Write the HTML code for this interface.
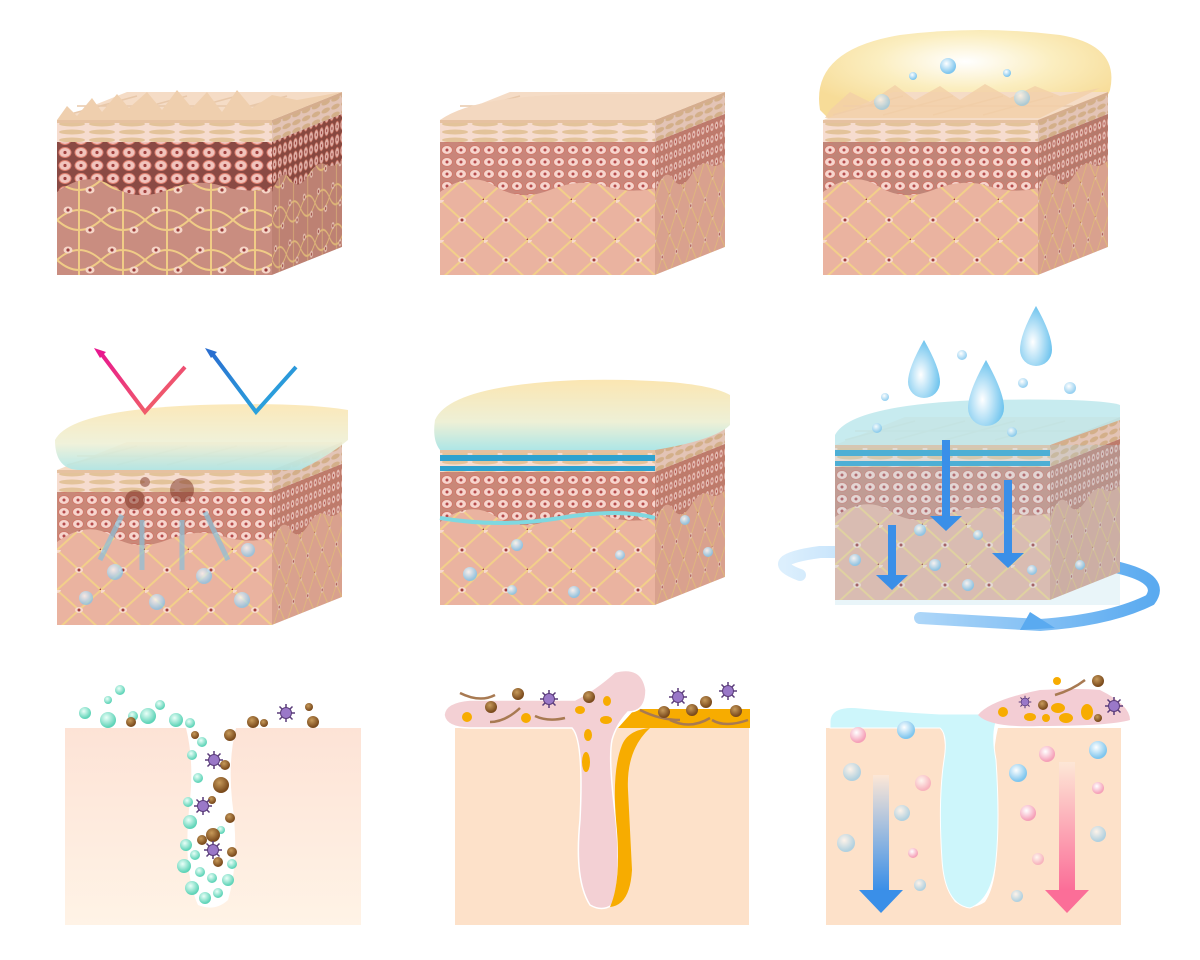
<!DOCTYPE html>
<html><head><meta charset="utf-8"><style>html,body{margin:0;padding:0;background:#fff}svg{display:block}</style></head><body>
<svg width="1200" height="960" viewBox="0 0 1200 960" xmlns="http://www.w3.org/2000/svg">
<defs>
<pattern id="cells" width="14" height="12" patternUnits="userSpaceOnUse">
<ellipse cx="7" cy="6" rx="5.5" ry="4.5" fill="#f7d5cd" stroke="#d07a6c" stroke-width="1"/><circle cx="7" cy="6" r="1.5" fill="#b4494a"/></pattern>
<pattern id="cellsD" width="16" height="13" patternUnits="userSpaceOnUse">
<ellipse cx="8" cy="6.5" rx="6" ry="5" fill="#f1c4bd" stroke="#e08070" stroke-width="1"/><circle cx="8" cy="6.5" r="1.6" fill="#a0403e"/></pattern>
<pattern id="mesh" width="44" height="40" patternUnits="userSpaceOnUse">
<rect width="44" height="40" fill="#eab3a0"/>
<path d="M0 0L44 40M44 0L0 40" stroke="#f2cf8a" stroke-width="2"/>
<ellipse cx="22" cy="20" rx="4" ry="3" fill="#f8d9cc"/><circle cx="22" cy="20" r="1.5" fill="#a23d3d"/>
<ellipse cx="0" cy="0" rx="4" ry="3" fill="#f8d9cc"/><circle cx="44" cy="40" r="1.5" fill="#a23d3d"/></pattern>
<pattern id="meshD" width="44" height="40" patternUnits="userSpaceOnUse">
<rect width="44" height="40" fill="#c98d80"/>
<path d="M0 20Q22 0 44 20M0 20Q22 40 44 20M22 0V40" stroke="#f0cc86" stroke-width="2" fill="none"/>
<ellipse cx="11" cy="10" rx="4.5" ry="3.5" fill="#f6d6c8"/><circle cx="11" cy="10" r="1.6" fill="#9a3b3b"/>
<ellipse cx="33" cy="30" rx="4.5" ry="3.5" fill="#f6d6c8"/><circle cx="33" cy="30" r="1.6" fill="#9a3b3b"/></pattern>
<pattern id="strip" width="30" height="8" patternUnits="userSpaceOnUse">
<rect width="30" height="8" fill="#f6dccf"/><ellipse cx="15" cy="4" rx="13" ry="2.5" fill="#e3c39a"/></pattern>
<g id="layers">
<rect x="0" y="40" width="215" height="115" fill="var(--derm)"/>
<rect x="0" y="0" width="215" height="22" fill="url(#strip)"/>
<rect x="0" y="0" width="215" height="3" fill="#e6c1a0"/>
<path d="M0 22H215V68Q190 74 165 66T110 70T55 66T0 72Z" fill="var(--band)"/>
<path d="M0 22H215V68Q190 74 165 66T110 70T55 66T0 72Z" fill="var(--cp)"/>
</g>
<g id="cube">
<use href="#layers"/>
<polygon points="0,0 215,0 285,-28 70,-28" fill="#f5dcc6"/>
<path d="M10 -5 L80 -24 M60 -5 L130 -24 M110 -5 L180 -24 M160 -5 L230 -24 M20 -14 H250" stroke="#e8c8aa" stroke-width="1.5"/>
<g transform="translate(215,0) skewY(-21.8)"><svg width="70" height="155" viewBox="0 0 215 155" preserveAspectRatio="none"><use href="#layers"/></svg>
<rect width="70" height="155" fill="#7a3a2a" opacity="0.15"/></g>
</g>
<radialGradient id="film" cx="0.5" cy="0.35" r="0.6"><stop offset="0" stop-color="#ffffff"/><stop offset="0.5" stop-color="#fbeec0"/><stop offset="1" stop-color="#f7dc98"/></radialGradient>
<linearGradient id="film2" x1="0" y1="0" x2="0" y2="1"><stop offset="0" stop-color="#fbe6b2"/><stop offset="0.6" stop-color="#eef0d6"/><stop offset="1" stop-color="#aee6e6"/></linearGradient>
<radialGradient id="bub" cx="0.4" cy="0.35" r="0.6"><stop offset="0" stop-color="#fff"/><stop offset="1" stop-color="#7fc6ee"/></radialGradient>
<radialGradient id="bubG" cx="0.4" cy="0.35" r="0.6"><stop offset="0" stop-color="#eafff8"/><stop offset="1" stop-color="#5fd4b8"/></radialGradient>
<radialGradient id="bubP" cx="0.4" cy="0.35" r="0.6"><stop offset="0" stop-color="#fff"/><stop offset="1" stop-color="#f5a0b8"/></radialGradient>
<radialGradient id="brown" cx="0.4" cy="0.35" r="0.6"><stop offset="0" stop-color="#c79a5a"/><stop offset="1" stop-color="#7a4a1c"/></radialGradient>
<radialGradient id="drop" cx="0.4" cy="0.6" r="0.6"><stop offset="0" stop-color="#fff"/><stop offset="1" stop-color="#6fc4ee"/></radialGradient>
<linearGradient id="peach" x1="0" y1="0" x2="0" y2="1"><stop offset="0" stop-color="#fde3d6"/><stop offset="1" stop-color="#fff3e6"/></linearGradient>
<linearGradient id="arB" x1="0" y1="0" x2="0" y2="1"><stop offset="0" stop-color="#fde7d6"/><stop offset="1" stop-color="#3a8fe8"/></linearGradient>
<linearGradient id="arP" x1="0" y1="0" x2="0" y2="1"><stop offset="0" stop-color="#fde7d6"/><stop offset="1" stop-color="#fb6e98"/></linearGradient>
<linearGradient id="vM" x1="0" y1="0" x2="1" y2="1"><stop offset="0" stop-color="#e8188e"/><stop offset="1" stop-color="#f27060"/></linearGradient>
<linearGradient id="vB" x1="0" y1="0" x2="1" y2="1"><stop offset="0" stop-color="#2a6fd0"/><stop offset="1" stop-color="#2bb0e0"/></linearGradient>
<linearGradient id="swirl" x1="0" y1="0" x2="1" y2="0"><stop offset="0" stop-color="#dceffd"/><stop offset="1" stop-color="#5aaaf0"/></linearGradient>
<g id="virus"><g stroke="#5a3c7a" stroke-width="1.5"><path d="M-9 0H9M0 -9V9M-6.5 -6.5L6.5 6.5M-6.5 6.5L6.5 -6.5"/></g><circle r="5.5" fill="#9a78c8" stroke="#5a3c7a"/></g>
</defs>

<!-- Row 1 -->
<g transform="translate(57,120)" style="--band:#8a4a44;--cp:url(#cellsD);--derm:url(#meshD)">
<use href="#cube"/>
<path d="M0 0 L10 -14 L20 -4 L35 -22 L45 -8 L60 -26 L72 -12 L90 -28 L105 -10 L120 -30 L135 -12 L150 -28 L165 -8 L180 -30 L195 -12 L215 -25 L240 -20 L285 -28 L215 0Z" fill="#efcfae"/>
</g>
<g transform="translate(440,120)" style="--band:#c9867a;--cp:url(#cells);--derm:url(#mesh)"><use href="#cube"/><path d="M0 0Q20 -14 60 -20T160 -26T285 -28L215 0Z" fill="#f3d8c0"/></g>
<path d="M820 110Q810 50 900 35Q980 25 1060 35Q1120 45 1110 90Q1105 110 1040 120H830Z" fill="url(#film)"/>
<g transform="translate(823,120)" style="--band:#c08578;--cp:url(#cells);--derm:url(#mesh)"><use href="#cube"/></g>
<path d="M830 110L850 92L870 102L895 85L915 100L940 86L960 100L985 84L1010 98L1035 86L1060 96L1100 88L1040 118H825Z" fill="#f2cfa8" opacity=".8"/>
<g fill="url(#bub)"><circle cx="948" cy="66" r="8"/><circle cx="913" cy="76" r="4"/><circle cx="1007" cy="73" r="4"/><circle cx="882" cy="102" r="8" opacity=".6"/><circle cx="1022" cy="98" r="8" opacity=".6"/></g>

<!-- Row 2 -->
<g transform="translate(57,470)" style="--band:#c98878;--cp:url(#cells);--derm:url(#mesh)"><use href="#cube"/></g>
<path d="M55 440Q70 410 200 405Q300 402 348 410L348 440Q330 455 300 470H80Q55 470 55 440Z" fill="url(#film2)" opacity=".9"/>
<g fill="#7a3020" opacity=".5"><circle cx="135" cy="500" r="10"/><circle cx="182" cy="490" r="12"/><circle cx="145" cy="482" r="5"/></g>
<g stroke="#8ac0d8" stroke-width="5" opacity=".7" fill="none"><path d="M100 560L122 515M142 570V520M182 570V520M228 560L205 512"/></g>
<g fill="url(#bub)" opacity=".7"><circle cx="115" cy="572" r="8"/><circle cx="157" cy="602" r="8"/><circle cx="204" cy="576" r="8"/><circle cx="242" cy="600" r="8"/><circle cx="86" cy="598" r="7"/><circle cx="248" cy="550" r="7"/></g>
<path d="M100 352L145 412L185 367" stroke="url(#vM)" stroke-width="4" fill="none"/><path d="M94 348L106 352L100 358Z" fill="#e8188e"/>
<path d="M211 352L256 412L296 367" stroke="url(#vB)" stroke-width="4" fill="none"/><path d="M205 348L217 352L211 358Z" fill="#2a6fd0"/>

<g transform="translate(440,450)" style="--band:#c98878;--cp:url(#cells);--derm:url(#mesh)"><use href="#cube"/></g>
<rect x="440" y="455" width="215" height="6" fill="#2fa2cf"/><rect x="440" y="466" width="215" height="5" fill="#2fa2cf"/>
<path d="M440 518Q500 528 560 518T655 518" stroke="#7fd8e0" stroke-width="4" fill="none"/>
<path d="M435 420Q450 385 580 380Q700 378 730 395V425Q715 440 655 450H440Q432 440 435 420Z" fill="url(#film2)"/>
<g fill="url(#bub)" opacity=".8"><circle cx="470" cy="574" r="7"/><circle cx="517" cy="545" r="6"/><circle cx="574" cy="592" r="6"/><circle cx="620" cy="555" r="5"/><circle cx="512" cy="590" r="5"/><circle cx="708" cy="552" r="5"/><circle cx="685" cy="520" r="5"/></g>

<path d="M800 575Q760 560 820 552H880M980 555Q1180 560 1150 600Q1110 620 1040 625L920 618" stroke="url(#swirl)" stroke-width="12" fill="none" stroke-linecap="round"/>
<path d="M1030 612L1055 628L1020 630Z" fill="#5aaaf0"/>
<g transform="translate(835,445)" style="--band:#c98878;--cp:url(#cells);--derm:url(#mesh)"><use href="#cube"/></g>
<rect x="835" y="450" width="215" height="6" fill="#2fa2cf"/><rect x="835" y="461" width="215" height="5" fill="#2fa2cf"/>
<rect x="835" y="445" width="285" height="160" fill="#a9d8e8" opacity=".25"/>
<path d="M835 435Q850 405 980 400Q1100 398 1120 405V420L1050 445H835Z" fill="#bde8ec" opacity=".85"/>
<g fill="#3a8fe8"><rect x="888" y="525" width="8" height="52"/><path d="M876 575H908L892 590Z"/><rect x="942" y="440" width="8" height="78"/><path d="M930 516H962L946 531Z"/><rect x="1004" y="480" width="8" height="75"/><path d="M992 553H1024L1008 568Z"/></g>
<g fill="url(#drop)"><path d="M924 340Q908 368 908 382A16 16 0 0 0 940 382Q940 368 924 340Z"/><path d="M986 360Q968 392 968 408A18 18 0 0 0 1004 408Q1004 392 986 360Z"/><path d="M1036 306Q1020 334 1020 350A16 16 0 0 0 1052 350Q1052 334 1036 306Z"/></g>
<g fill="url(#bub)" opacity=".8"><circle cx="962" cy="355" r="5"/><circle cx="1023" cy="383" r="5"/><circle cx="1070" cy="388" r="6"/><circle cx="885" cy="397" r="4"/><circle cx="877" cy="428" r="5"/><circle cx="1012" cy="432" r="5"/><circle cx="855" cy="560" r="6"/><circle cx="935" cy="565" r="6"/><circle cx="968" cy="585" r="6"/><circle cx="1032" cy="570" r="5"/><circle cx="920" cy="530" r="6"/><circle cx="978" cy="535" r="5"/><circle cx="1080" cy="565" r="5"/></g>

<!-- Row 3 panel 7 -->
<path d="M65 728H186Q194 760 190 800Q182 870 198 905Q215 912 228 900Q240 860 232 800Q228 760 236 728H361V925H65Z" fill="url(#peach)"/>
<g fill="url(#bubG)"><circle cx="85" cy="713" r="6"/><circle cx="108" cy="720" r="8"/><circle cx="120" cy="690" r="5"/><circle cx="133" cy="716" r="5"/><circle cx="148" cy="716" r="8"/><circle cx="160" cy="705" r="5"/><circle cx="176" cy="720" r="7"/><circle cx="108" cy="700" r="4"/><circle cx="190" cy="723" r="5"/><circle cx="202" cy="742" r="5"/><circle cx="192" cy="755" r="5"/><circle cx="198" cy="778" r="5"/><circle cx="188" cy="802" r="5"/><circle cx="190" cy="822" r="7"/><circle cx="186" cy="845" r="6"/><circle cx="184" cy="866" r="7"/><circle cx="192" cy="888" r="7"/><circle cx="205" cy="898" r="6"/><circle cx="218" cy="893" r="5"/><circle cx="228" cy="880" r="6"/><circle cx="232" cy="864" r="5"/><circle cx="200" cy="872" r="5"/><circle cx="212" cy="878" r="5"/><circle cx="195" cy="855" r="5"/><circle cx="221" cy="830" r="4"/></g>
<g fill="url(#brown)"><circle cx="131" cy="722" r="5"/><circle cx="253" cy="722" r="6"/><circle cx="264" cy="723" r="4"/><circle cx="313" cy="722" r="6"/><circle cx="309" cy="707" r="4"/><circle cx="230" cy="735" r="6"/><circle cx="225" cy="765" r="5"/><circle cx="221" cy="785" r="8"/><circle cx="212" cy="800" r="4"/><circle cx="230" cy="818" r="5"/><circle cx="213" cy="835" r="7"/><circle cx="232" cy="852" r="5"/><circle cx="218" cy="862" r="5"/><circle cx="202" cy="840" r="5"/><circle cx="195" cy="735" r="4"/></g>
<use href="#virus" x="286" y="713"/><use href="#virus" x="214" y="760"/><use href="#virus" x="203" y="806"/><use href="#virus" x="213" y="850"/>

<!-- panel 8 -->
<rect x="455" y="728" width="294" height="197" fill="#fde1c9"/>
<path d="M635 709H750V728H618Z" fill="#f7ac00"/>
<path d="M628 712Q646 712 646 690Q642 665 615 672Q595 690 575 700H470Q445 702 444 715Q446 728 470 728H572Q584 740 580 820Q574 880 590 905Q602 912 612 905Q622 880 616 820Q608 760 612 740Q616 725 628 712Z" fill="#f3d0d4" stroke="#fff" stroke-width="1.5"/>
<path d="M650 728Q628 730 622 745Q612 770 616 820Q622 880 610 907Q630 905 632 870L628 790Q626 750 650 728Z" fill="#f7ac00"/>
<g fill="#f7ac00"><circle cx="467" cy="717" r="5"/><circle cx="526" cy="718" r="5"/><ellipse cx="580" cy="710" rx="5" ry="4"/><ellipse cx="606" cy="720" rx="6" ry="4"/><ellipse cx="607" cy="701" rx="4" ry="5"/><ellipse cx="588" cy="735" rx="4" ry="6"/><ellipse cx="586" cy="762" rx="4" ry="10"/></g>
<g stroke="#a87a52" stroke-width="2.5" fill="none"><path d="M460 693Q480 703 495 695M490 722Q505 722 520 708M535 716Q548 722 565 718M640 710Q660 720 680 720M670 720Q690 730 710 718M712 720Q725 728 748 720"/></g>
<g fill="url(#brown)"><circle cx="518" cy="694" r="6"/><circle cx="491" cy="707" r="6"/><circle cx="589" cy="697" r="6"/><circle cx="664" cy="712" r="6"/><circle cx="692" cy="710" r="6"/><circle cx="706" cy="702" r="6"/><circle cx="736" cy="711" r="6"/></g>
<use href="#virus" x="549" y="699"/><use href="#virus" x="678" y="697"/><use href="#virus" x="728" y="691"/>

<!-- panel 9 -->
<path d="M826 728H942Q950 760 944 820Q938 880 955 902Q970 912 985 902Q1000 880 996 820Q990 760 998 728H1121V925H826Z" fill="#fde1c9"/>
<path d="M830 722Q830 705 860 708Q900 712 940 714H1000Q990 728 996 760Q1000 820 996 860Q992 900 970 908Q945 905 942 860Q938 800 944 760Q948 735 940 728H830Z" fill="#cdf6fb" stroke="#fff"/>
<path d="M978 715Q990 700 1040 690Q1080 688 1100 690Q1130 705 1130 720Q1110 726 1040 726Q990 728 978 715Z" fill="#f3cdd4"/>
<g fill="#f7ac00"><circle cx="1003" cy="712" r="5"/><ellipse cx="1030" cy="717" rx="6" ry="4"/><ellipse cx="1058" cy="708" rx="7" ry="5"/><ellipse cx="1066" cy="718" rx="7" ry="5"/><ellipse cx="1087" cy="712" rx="6" ry="8"/><circle cx="1057" cy="681" r="4"/><circle cx="1046" cy="718" r="4"/></g>
<path d="M1055 695Q1072 690 1085 680" stroke="#a87a52" stroke-width="2.5" fill="none"/>
<g fill="url(#brown)"><circle cx="1098" cy="681" r="6"/><circle cx="1043" cy="705" r="5"/><circle cx="1098" cy="718" r="4"/></g>
<use href="#virus" x="1114" y="706"/><use href="#virus" x="1025" y="702" transform="translate(1025 702) scale(.7) translate(-1025 -702)"/>
<rect x="873" y="775" width="16" height="115" fill="url(#arB)"/><path d="M859 890H903L881 913Z" fill="#3a8fe8"/>
<rect x="1059" y="762" width="16" height="128" fill="url(#arP)"/><path d="M1045 890H1089L1067 913Z" fill="#fb6e98"/>
<g fill="url(#bub)"><circle cx="906" cy="730" r="9"/><circle cx="852" cy="772" r="9" opacity=".6"/><circle cx="902" cy="813" r="8" opacity=".6"/><circle cx="846" cy="843" r="9" opacity=".6"/><circle cx="920" cy="885" r="6" opacity=".6"/><circle cx="1018" cy="773" r="9"/><circle cx="1098" cy="750" r="9"/><circle cx="1098" cy="834" r="8" opacity=".6"/><circle cx="1017" cy="896" r="6" opacity=".6"/></g>
<g fill="url(#bubP)"><circle cx="858" cy="735" r="8"/><circle cx="923" cy="783" r="8" opacity=".7"/><circle cx="913" cy="853" r="5"/><circle cx="1047" cy="754" r="8"/><circle cx="1028" cy="813" r="8"/><circle cx="1098" cy="788" r="6"/><circle cx="1038" cy="859" r="6" opacity=".7"/></g>
</svg>
</body></html>
